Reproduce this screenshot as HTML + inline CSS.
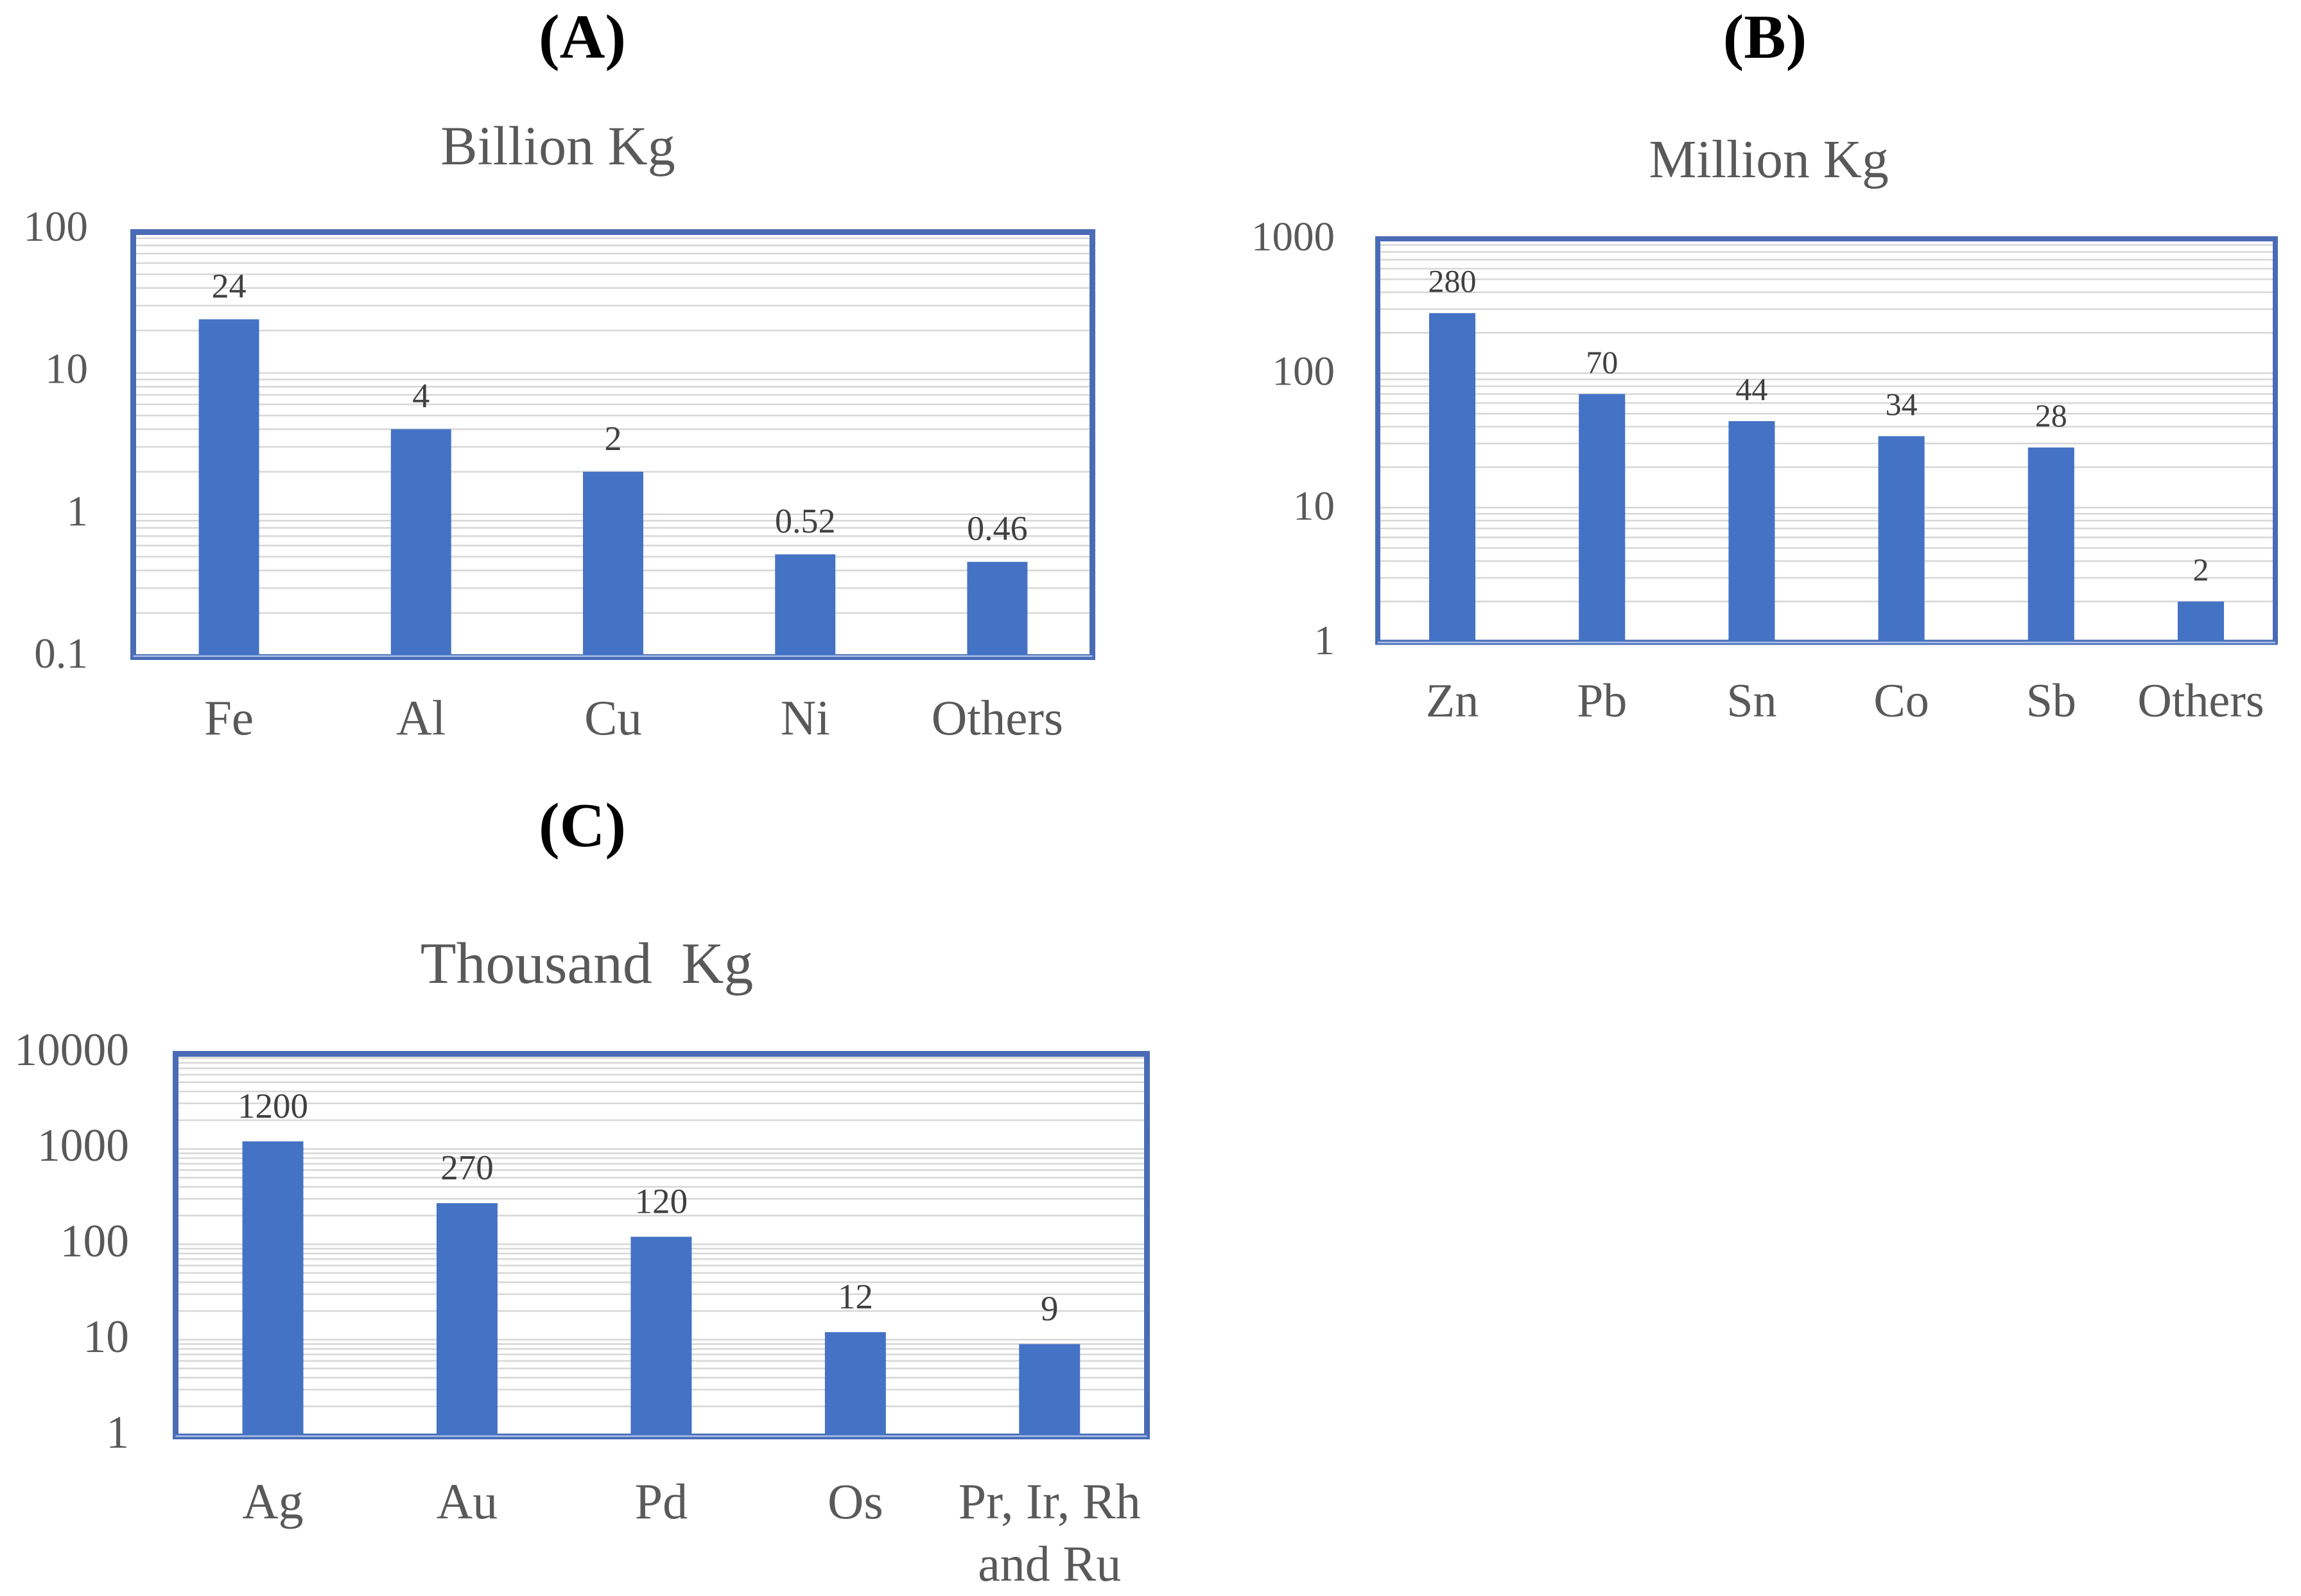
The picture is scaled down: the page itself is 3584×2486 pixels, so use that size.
<!DOCTYPE html>
<html lang="en">
<head>
<meta charset="utf-8">
<title>Metal production by mass, panels A to C</title>
<style>
html,body{margin:0;padding:0;background:#fff;}
svg{display:block;}
text{font-family:"Liberation Serif",serif;}
</style>
</head>
<body>
<svg id="figure" xmlns="http://www.w3.org/2000/svg" width="3584" height="2486" viewBox="0 0 3584 2486">
  <rect x="0" y="0" width="3584" height="2486" fill="#ffffff"/>
  <text x="907" y="90" font-size="98" font-weight="700" fill="#000" text-anchor="middle">(A)</text>
  <text x="2749" y="90" font-size="98" font-weight="700" fill="#000" text-anchor="middle">(B)</text>
  <text x="907" y="1318" font-size="98" font-weight="700" fill="#000" text-anchor="middle">(C)</text>
  <text x="869" y="256" font-size="86" fill="#595959" text-anchor="middle">Billion Kg</text>
  <text x="2755" y="276" font-size="83.5" fill="#595959" text-anchor="middle">Million Kg</text>
  <text x="914" y="1531" font-size="91.5" fill="#595959" text-anchor="middle" xml:space="preserve">Thousand  Kg</text>
</svg>
<script>
// Chart A data
const categoriesA = ['Fe', 'Al', 'Cu', 'Ni', 'Others'];
const valuesA = [24, 4, 2, 0.52, 0.46];
const tickLabelsA = [0.1, 1, 10, 100];

// Chart B data
const categoriesB = ['Zn', 'Pb', 'Sn', 'Co', 'Sb', 'Others'];
const valuesB = [280, 70, 44, 34, 28, 2];
const tickLabelsB = [1, 10, 100, 1000];

// Chart C data
const categoriesC = ['Ag', 'Au', 'Pd', 'Os', 'Pr, Ir, Rh\nand Ru'];
const valuesC = [1200, 270, 120, 12, 9];
const tickLabelsC = [1, 10, 100, 1000, 10000];

const SVG_NS = 'http://www.w3.org/2000/svg';
const figure = document.getElementById('figure');

function make(tag, parent, attrs) {
  const el = document.createElementNS(SVG_NS, tag);
  for (const k in attrs) el.setAttribute(k, attrs[k]);
  parent.appendChild(el);
  return el;
}

function drawChart(id, categories, values, ticks, c) {
  const group = make('g', figure, {});
  
  

  const minV = ticks[0];
  const maxV = ticks[ticks.length - 1];
  const logSpan = Math.log10(maxV) - Math.log10(minV);
  const yScale = function (v) {
    return c.yBottom - (Math.log10(v) - Math.log10(minV)) / logSpan * (c.yBottom - c.yTop);
  };
  const tickBaseline = function (v) {
    return c.tickBaseBottom - (Math.log10(v) - Math.log10(minV)) / logSpan * (c.tickBaseBottom - c.tickBaseTop);
  };
  const band = (c.right - c.left) / categories.length;
  const xCenter = function (i) {
    return c.left + band * (i + 0.5);
  };

  // log gridlines: every multiple 1..9 of each decade
  for (let d = 0; d < ticks.length - 1; d++) {
    for (let m = 1; m <= 9; m++) {
      const gy = yScale(ticks[d] * m);
      const grid = make('line', group, { x1: c.frameLeft, x2: c.frameRight, y1: gy, y2: gy, stroke: '#d8d8d8', 'stroke-width': 2.6 });
      
      
    }
  }

  const frame = make('rect', group, {
    x: c.frameLeft, y: c.frameTop,
    width: c.frameRight - c.frameLeft, height: c.frameBottom - c.frameTop,
    fill: 'none', stroke: '#4a6cb6', 'stroke-width': c.frameWidth
  });
  
  

  // bars
  const barW = band * c.barFraction;
  values.forEach(function (v, i) {
    const top = yScale(v);
    const bar = make('rect', group, {
      x: xCenter(i) - barW / 2, y: top, width: barW, height: c.yBottom - top, fill: '#4472c4'
    });
    
    

    const label = make('text', group, {
      x: xCenter(i), y: top - c.labelGap, 'font-size': c.labelSize, fill: '#404040', 'text-anchor': 'middle'
    });
    label.textContent = String(v);
    
    
  });

  const baseline = make('line', group, {
    x1: c.frameLeft, x2: c.frameRight, y1: c.lightLine, y2: c.lightLine, stroke: '#a9c2ea', 'stroke-width': 2.5
  });
  
  

  // y tick labels
  ticks.forEach(function (t) {
    const tick = make('text', group, {
      x: c.tickRight, y: tickBaseline(t), 'font-size': c.tickSize, fill: '#595959', 'text-anchor': 'end'
    });
    tick.textContent = String(t);
    
    
  });

  // category labels
  categories.forEach(function (name, i) {
    const cat = make('text', group, {
      x: xCenter(i), y: c.catBaseline, 'font-size': c.catSize, fill: '#595959', 'text-anchor': 'middle'
    });
    
    
    name.split('\n').forEach(function (line, j) {
      const span = make('tspan', cat, { x: xCenter(i), y: c.catBaseline + j * c.catLineHeight });
      span.textContent = line;
    });
  });
}

drawChart('a', categoriesA, valuesA, tickLabelsA, {
  left: 207, right: 1703, yTop: 361, yBottom: 1021, lightLine: 1022,
  frameLeft: 207.5, frameRight: 1701.5, frameTop: 361.5, frameBottom: 1023.5, frameWidth: 9,
  barFraction: 0.314, labelGap: 34, labelSize: 54,
  tickRight: 137, tickSize: 67, tickBaseTop: 375, tickBaseBottom: 1040,
  catBaseline: 1144, catSize: 77, catLineHeight: 97
});

drawChart('b', categoriesB, valuesB, tickLabelsB, {
  left: 2145.4, right: 3544.6, yTop: 372, yBottom: 1000, lightLine: 1000.8,
  frameLeft: 2146, frameRight: 3544, frameTop: 372, frameBottom: 1000.5, frameWidth: 8,
  barFraction: 0.309, labelGap: 33, labelSize: 50,
  tickRight: 2079, tickSize: 65, tickBaseTop: 390, tickBaseBottom: 1019,
  catBaseline: 1116, catSize: 74, catLineHeight: 97
});

drawChart('c', categoriesC, valuesC, tickLabelsC, {
  left: 273.8, right: 1786, yTop: 1641, yBottom: 2235.4, lightLine: 2237,
  frameLeft: 273.5, frameRight: 1786.5, frameTop: 1641.5, frameBottom: 2237.5, frameWidth: 9,
  barFraction: 0.314, labelGap: 37, labelSize: 55,
  tickRight: 201, tickSize: 71.5, tickBaseTop: 1659, tickBaseBottom: 2255,
  catBaseline: 2365, catSize: 78, catLineHeight: 97
});
</script>
</body>
</html>
